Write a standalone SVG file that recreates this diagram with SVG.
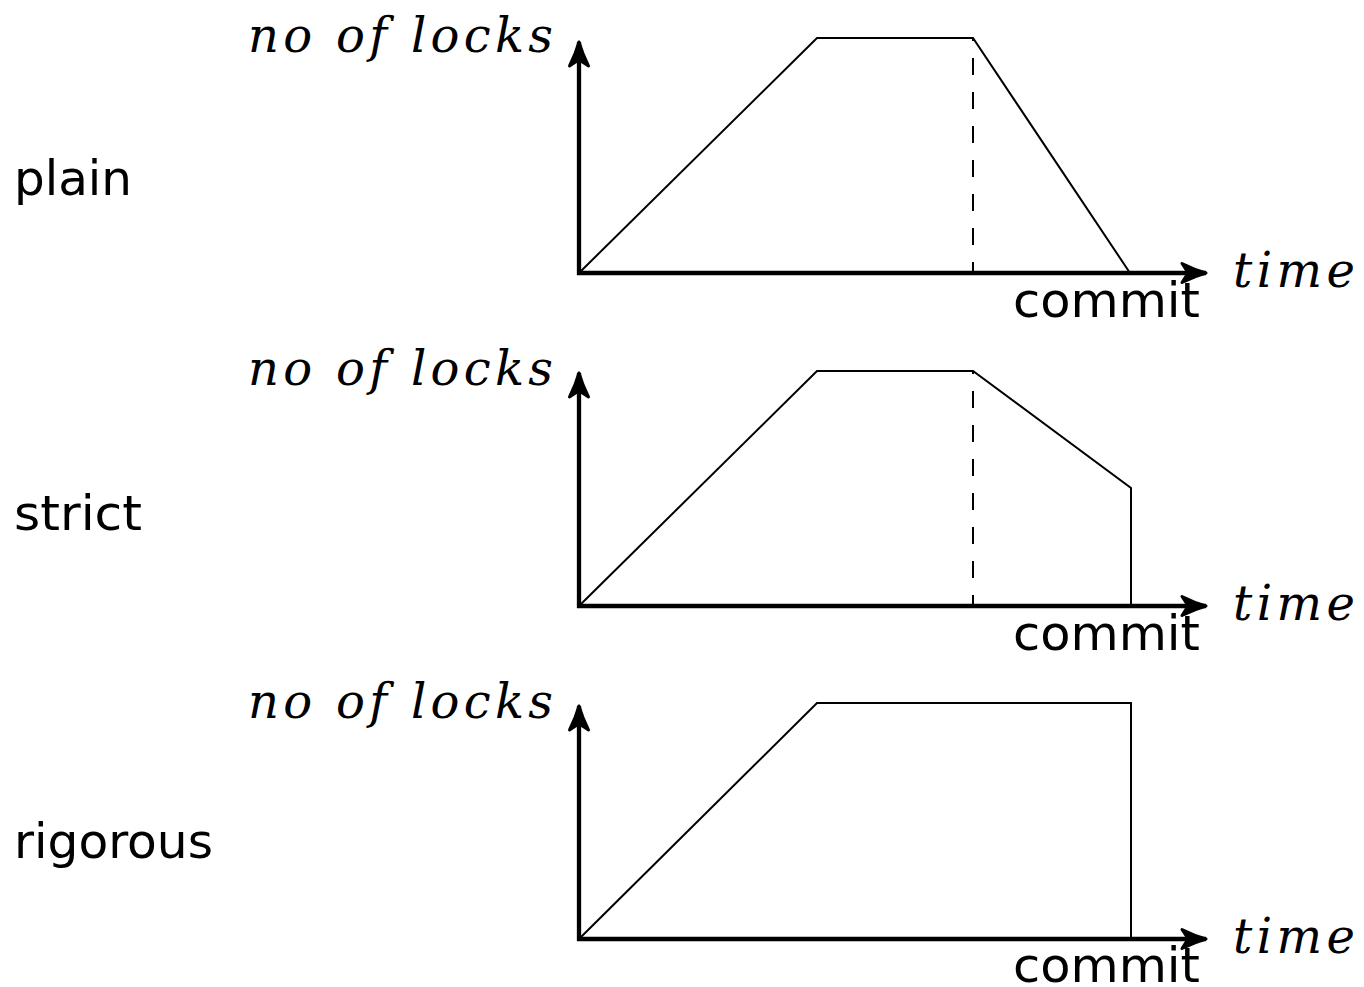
<svg xmlns="http://www.w3.org/2000/svg" width="1364" height="987" viewBox="0 0 1364 987">
  <style>
    .axis { stroke: #000; stroke-width: 4.3; fill: none; }
    .curve { stroke: #000; stroke-width: 2; fill: none; stroke-linejoin: miter; }
    .dash { stroke: #000; stroke-width: 2; stroke-dasharray: 17 17; stroke-dashoffset: 14; }
    .name { font-family: "DejaVu Sans", sans-serif; font-size: 48px; fill: #000; }
    .math { font-family: "DejaVu Serif", serif; font-style: italic; font-size: 48px; fill: #000; }
  </style>
  <defs>
    <!-- solid axis arrowhead with a concave back -->
    <marker id="tip" markerUnits="userSpaceOnUse" markerWidth="40" markerHeight="40" viewBox="-30 -20 40 40" refX="0" refY="0" orient="auto" overflow="visible">
      <path d="M 0,0 C -7,-2 -15,-5 -24,-9.5 C -21,-5 -19,-2 -18,0 C -19,2 -21,5 -24,9.5 C -15,5 -7,2 0,0 Z" fill="#000" stroke="#000" stroke-width="3" stroke-linejoin="round"/>
    </marker>
  </defs>
  <rect width="1364" height="987" fill="#fff"/>

  <!-- plain 2PL -->
  <g id="plain">
    <text class="name" x="14" y="195" textLength="118" lengthAdjust="spacingAndGlyphs">plain</text>
    <text class="math" x="248" y="52" textLength="305" lengthAdjust="spacing">no of locks</text>
    <text class="math" x="1233" y="287" textLength="122" lengthAdjust="spacing">time</text>
    <text class="name" x="1013" y="317" textLength="187" lengthAdjust="spacingAndGlyphs">commit</text>
    <line class="dash" x1="973" y1="38" x2="973" y2="273"/>
    <polyline class="curve" points="579,273 817,38 973,38 1130,273"/>
    <line class="axis" x1="579" y1="275" x2="579" y2="42" marker-end="url(#tip)"/>
    <line class="axis" x1="577" y1="273" x2="1206" y2="273" marker-end="url(#tip)"/>
  </g>

  <!-- strict 2PL -->
  <g id="strict">
    <text class="name" x="14" y="530" textLength="128" lengthAdjust="spacingAndGlyphs">strict</text>
    <text class="math" x="248" y="385" textLength="305" lengthAdjust="spacing">no of locks</text>
    <text class="math" x="1233" y="620" textLength="122" lengthAdjust="spacing">time</text>
    <text class="name" x="1013" y="650" textLength="187" lengthAdjust="spacingAndGlyphs">commit</text>
    <line class="dash" x1="973" y1="371" x2="973" y2="606"/>
    <polyline class="curve" points="579,606 817,371 973,371 1131,488 1131,606"/>
    <line class="axis" x1="579" y1="608" x2="579" y2="373" marker-end="url(#tip)"/>
    <line class="axis" x1="577" y1="606" x2="1206" y2="606" marker-end="url(#tip)"/>
  </g>

  <!-- rigorous 2PL -->
  <g id="rigorous">
    <text class="name" x="14" y="858" textLength="199" lengthAdjust="spacingAndGlyphs">rigorous</text>
    <text class="math" x="248" y="718" textLength="305" lengthAdjust="spacing">no of locks</text>
    <text class="math" x="1233" y="953" textLength="122" lengthAdjust="spacing">time</text>
    <text class="name" x="1013" y="982" textLength="187" lengthAdjust="spacingAndGlyphs">commit</text>
    <polyline class="curve" points="579,939 817,703 1131,703 1131,939"/>
    <line class="axis" x1="579" y1="941" x2="579" y2="706" marker-end="url(#tip)"/>
    <line class="axis" x1="577" y1="939" x2="1206" y2="939" marker-end="url(#tip)"/>
  </g>
</svg>
